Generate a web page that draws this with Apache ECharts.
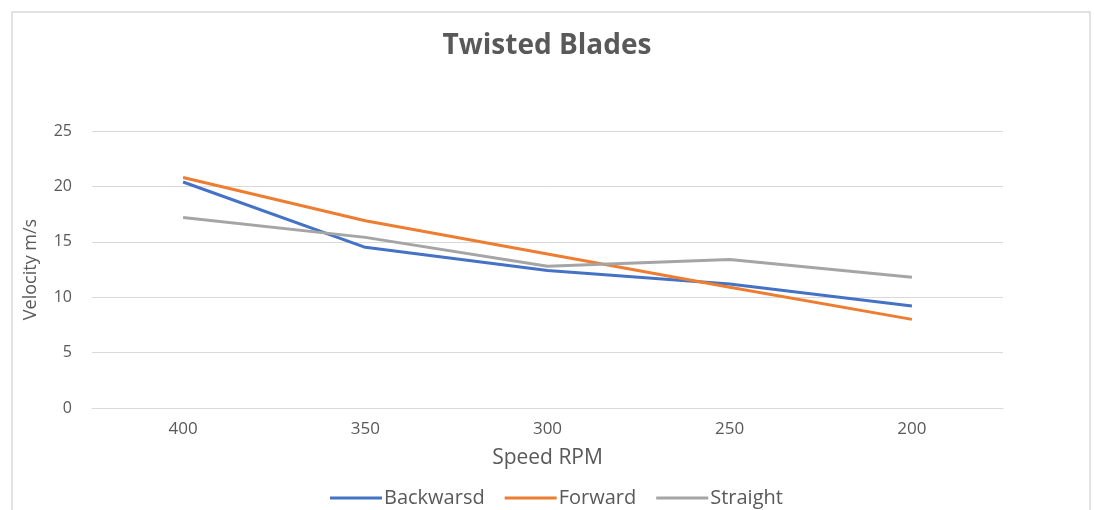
<!DOCTYPE html>
<html>
<head>
<meta charset="utf-8">
<script src="https://cdn.jsdelivr.net/npm/echarts@6/dist/echarts.min.js"></script>
<style>html,body{margin:0;padding:0;background:#fff}#c{width:1094px;height:510px}</style>
</head>
<body>
<div id="c"></div>
<script>
const categories = ['400', '350', '300', '250', '200'];
const backward = [20.4, 14.5, 12.4, 11.2, 9.2];
const forward = [20.8, 16.9, 13.9, 10.9, 8.0];
const straight = [17.2, 15.4, 12.8, 13.4, 11.8];
const seriesNames = ['Backwarsd', 'Forward', 'Straight'];

const FONT = '"Open Sans", sans-serif';
const chart = echarts.init(document.getElementById('c'));
const mk = (name, data, color) => ({
  name, type: 'line', data, symbol: 'none', smooth: false,
  lineStyle: { width: 3, color }, itemStyle: { color }
});
chart.setOption({
  animation: false,
  backgroundColor: '#fff',
  graphic: [{
    type: 'rect', shape: { x: 12, y: 12, width: 1078, height: 520 },
    style: { fill: 'none', stroke: '#d9d9d9', lineWidth: 1.5 }, silent: true
  }],
  title: {
    text: 'Twisted Blades', left: 'center', top: 27,
    textStyle: { fontFamily: FONT, fontSize: 28, fontWeight: 'bold', color: '#595959' }
  },
  legend: {
    top: 483, left: 325, itemWidth: 52, itemHeight: 3, itemGap: 20,
    icon: 'rect',
    textStyle: { fontFamily: FONT, fontSize: 20, color: '#595959', padding: [0, 0, 0, -3] },
    data: seriesNames
  },
  grid: { left: 92, right: 91, top: 131, bottom: 102 },
  xAxis: {
    type: 'category', data: categories, boundaryGap: true,
    name: 'Speed RPM', nameLocation: 'middle', nameGap: 40,
    nameTextStyle: { fontFamily: FONT, fontSize: 21, color: '#595959' },
    axisLine: { show: true, lineStyle: { color: '#d9d9d9' } },
    axisTick: { show: false },
    axisLabel: { fontFamily: FONT, fontSize: 17, color: '#595959', margin: 13 }
  },
  yAxis: {
    type: 'value', min: 0, max: 25, interval: 5,
    name: 'Velocity m/s', nameLocation: 'middle', nameGap: 52, nameRotate: 90,
    nameTextStyle: { fontFamily: FONT, fontSize: 18, color: '#595959' },
    axisLine: { show: false }, axisTick: { show: false },
    axisLabel: { fontFamily: FONT, fontSize: 16, color: '#595959', margin: 20 },
    splitLine: { lineStyle: { color: '#d9d9d9', width: 1 } }
  },
  series: [
    mk(seriesNames[0], backward, '#4472C4'),
    mk(seriesNames[1], forward, '#ED7D31'),
    mk(seriesNames[2], straight, '#A5A5A5')
  ]
});
</script>
</body>
</html>
